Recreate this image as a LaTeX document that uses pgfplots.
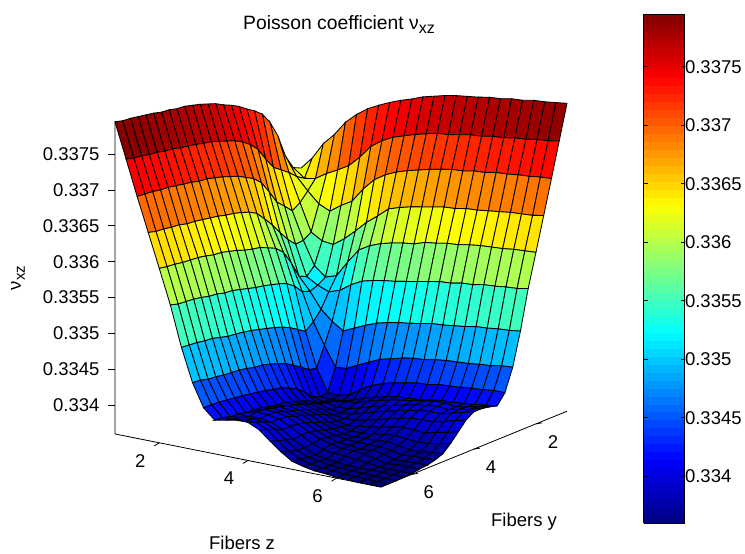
\documentclass[border=0pt]{standalone}
\usepackage{fontspec}
\setmainfont{Liberation Sans}
\usepackage{pgfplots}
\pgfplotsset{compat=1.18}
\pgfplotsset{
  colormap={matjet}{rgb255(0cm)=(0,0,128); rgb255(1cm)=(0,0,255); rgb255(3cm)=(0,255,255); rgb255(5cm)=(255,255,0); rgb255(7cm)=(255,0,0); rgb255(8cm)=(128,0,0)}
}
\begin{document}
\begin{tikzpicture}[x=1pt,y=1pt]
\useasboundingbox (0,0) rectangle (745,554);
\newcommand{\fs}{\fontsize{18.5}{20}\selectfont}
\begin{axis}[
  at={(115pt,67pt)},anchor=south west,
  scale only axis,width=452pt,height=441pt,
  view={35}{16.5},plot box ratio=1 1 1,y dir=reverse,
  xmin=1,xmax=7,ymin=1,ymax=7,zmin=0.3336,zmax=0.33795,
  clip=false,
  colormap name=matjet,
  axis line style={draw=none},
  tick style={draw=none},
  major tick length=0pt,
  xtick pos=left,ytick pos=left,ztick pos=left,
  xtick={2,4,6},xticklabels={2,4,6},
  ytick={2,4,6},yticklabels={2,4,6},
  ztick={0.334,0.3345,0.335,0.3355,0.336,0.3365,0.337,0.3375},
  zticklabels={0.334,0.3345,0.335,0.3355,0.336,0.3365,0.337,0.3375},
  xticklabel style={font=\fs,anchor=center,xshift=-19pt,yshift=-18pt},
  yticklabel style={font=\fs,anchor=center,xshift=17pt,yshift=-18pt},
  zticklabel style={font=\fs,anchor=east,xshift=-12pt},
  colorbar,
  colorbar sampled,
  colorbar style={
    samples=65,
    at={(parent axis.south east)},anchor=south west,xshift=68pt,yshift=-36pt,
    scale only axis,width=41pt,height=509pt,
    ytick={0.334,0.3345,0.335,0.3355,0.336,0.3365,0.337,0.3375},
    yticklabels={0.334,0.3345,0.335,0.3355,0.336,0.3365,0.337,0.3375},
    yticklabel pos=right,
    yticklabel style={font=\fs,xshift=-3pt},
    tick align=inside,major tick length=4pt,
    tick style={draw=black,line width=0.6pt},
    axis line style={draw=black,line width=0.8pt},
  },
]
\addplot3[surf,shader=flat corner,draw=black,line width=0.85pt,mesh/rows=25,mesh/cols=25,mesh/ordering=y varies] table[row sep=newline] {
x y z
1 1 0.33625
1 1.25 0.33630
1 1.5 0.33650
1 1.75 0.33683
1 2 0.33706
1 2.25 0.33722
1 2.5 0.33731
1 2.75 0.33738
1 3 0.33746
1 3.25 0.33752
1 3.5 0.33757
1 3.75 0.33763
1 4 0.33767
1 4.25 0.33771
1 4.5 0.33774
1 4.75 0.33777
1 5 0.33778
1 5.25 0.33781
1 5.5 0.33782
1 5.75 0.33785
1 6 0.33787
1 6.25 0.33789
1 6.5 0.33791
1 6.75 0.33792
1 7 0.33795
1.25 1 0.33642
1.25 1.25 0.33618
1.25 1.5 0.33625
1.25 1.75 0.33635
1.25 2 0.33643
1.25 2.25 0.33651
1.25 2.5 0.33667
1.25 2.75 0.33685
1.25 3 0.33696
1.25 3.25 0.33704
1.25 3.5 0.33710
1.25 3.75 0.33714
1.25 4 0.33718
1.25 4.25 0.33722
1.25 4.5 0.33724
1.25 4.75 0.33727
1.25 5 0.33729
1.25 5.25 0.33731
1.25 5.5 0.33734
1.25 5.75 0.33735
1.25 6 0.33738
1.25 6.25 0.33739
1.25 6.5 0.33742
1.25 6.75 0.33743
1.25 7 0.33746
1.5 1 0.33665
1.5 1.25 0.33621
1.5 1.5 0.33608
1.5 1.75 0.33596
1.5 2 0.33589
1.5 2.25 0.33600
1.5 2.5 0.33610
1.5 2.75 0.33629
1.5 3 0.33646
1.5 3.25 0.33656
1.5 3.5 0.33662
1.5 3.75 0.33668
1.5 4 0.33672
1.5 4.25 0.33676
1.5 4.5 0.33679
1.5 4.75 0.33682
1.5 5 0.33683
1.5 5.25 0.33686
1.5 5.5 0.33688
1.5 5.75 0.33690
1.5 6 0.33692
1.5 6.25 0.33693
1.5 6.5 0.33695
1.5 6.75 0.33696
1.5 7 0.33697
1.75 1 0.33681
1.75 1.25 0.33631
1.75 1.5 0.33593
1.75 1.75 0.33558
1.75 2 0.33551
1.75 2.25 0.33550
1.75 2.5 0.33561
1.75 2.75 0.33575
1.75 3 0.33590
1.75 3.25 0.33603
1.75 3.5 0.33615
1.75 3.75 0.33621
1.75 4 0.33625
1.75 4.25 0.33628
1.75 4.5 0.33630
1.75 4.75 0.33633
1.75 5 0.33635
1.75 5.25 0.33637
1.75 5.5 0.33639
1.75 5.75 0.33640
1.75 6 0.33643
1.75 6.25 0.33644
1.75 6.5 0.33646
1.75 6.75 0.33647
1.75 7 0.33650
2 1 0.33701
2 1.25 0.33639
2 1.5 0.33586
2 1.75 0.33549
2 2 0.33519
2 2.25 0.33508
2 2.5 0.33513
2 2.75 0.33536
2 3 0.33555
2 3.25 0.33565
2 3.5 0.33570
2 3.75 0.33575
2 4 0.33577
2 4.25 0.33580
2 4.5 0.33584
2 4.75 0.33587
2 5 0.33590
2 5.25 0.33591
2 5.5 0.33594
2 5.75 0.33596
2 6 0.33597
2 6.25 0.33598
2 6.5 0.33600
2 6.75 0.33601
2 7 0.33603
2.25 1 0.33715
2.25 1.25 0.33648
2.25 1.5 0.33597
2.25 1.75 0.33547
2.25 2 0.33506
2.25 2.25 0.33499
2.25 2.5 0.33495
2.25 2.75 0.33499
2.25 3 0.33511
2.25 3.25 0.33519
2.25 3.5 0.33523
2.25 3.75 0.33526
2.25 4 0.33529
2.25 4.25 0.33531
2.25 4.5 0.33534
2.25 4.75 0.33537
2.25 5 0.33540
2.25 5.25 0.33541
2.25 5.5 0.33544
2.25 5.75 0.33545
2.25 6 0.33548
2.25 6.25 0.33550
2.25 6.5 0.33551
2.25 6.75 0.33552
2.25 7 0.33555
2.5 1 0.33726
2.5 1.25 0.33663
2.5 1.5 0.33606
2.5 1.75 0.33558
2.5 2 0.33511
2.5 2.25 0.33493
2.5 2.5 0.33473
2.5 2.75 0.33460
2.5 3 0.33451
2.5 3.25 0.33458
2.5 3.5 0.33465
2.5 3.75 0.33470
2.5 4 0.33474
2.5 4.25 0.33477
2.5 4.5 0.33480
2.5 4.75 0.33483
2.5 5 0.33485
2.5 5.25 0.33487
2.5 5.5 0.33488
2.5 5.75 0.33491
2.5 6 0.33494
2.5 6.25 0.33495
2.5 6.5 0.33497
2.5 6.75 0.33498
2.5 7 0.33499
2.75 1 0.33734
2.75 1.25 0.33681
2.75 1.5 0.33626
2.75 1.75 0.33572
2.75 2 0.33533
2.75 2.25 0.33498
2.75 2.5 0.33459
2.75 2.75 0.33430
2.75 3 0.33403
2.75 3.25 0.33405
2.75 3.5 0.33413
2.75 3.75 0.33420
2.75 4 0.33427
2.75 4.25 0.33431
2.75 4.5 0.33435
2.75 4.75 0.33438
2.75 5 0.33439
2.75 5.25 0.33442
2.75 5.5 0.33444
2.75 5.75 0.33445
2.75 6 0.33446
2.75 6.25 0.33448
2.75 6.5 0.33449
2.75 6.75 0.33452
2.75 7 0.33453
3 1 0.33741
3 1.25 0.33692
3 1.5 0.33642
3 1.75 0.33587
3 2 0.33553
3 2.25 0.33509
3 2.5 0.33449
3 2.75 0.33403
3 3 0.33372
3 3.25 0.33371
3 3.5 0.33375
3 3.75 0.33386
3 4 0.33395
3 4.25 0.33400
3 4.5 0.33405
3 4.75 0.33407
3 5 0.33410
3 5.25 0.33412
3 5.5 0.33414
3 5.75 0.33416
3 6 0.33417
3 6.25 0.33419
3 6.5 0.33420
3 6.75 0.33421
3 7 0.33421
3.25 1 0.33747
3.25 1.25 0.33700
3.25 1.5 0.33652
3.25 1.75 0.33599
3.25 2 0.33562
3.25 2.25 0.33517
3.25 2.5 0.33456
3.25 2.75 0.33404
3.25 3 0.33371
3.25 3.25 0.33370
3.25 3.5 0.33371
3.25 3.75 0.33375
3.25 4 0.33381
3.25 4.25 0.33385
3.25 4.5 0.33389
3.25 4.75 0.33392
3.25 5 0.33393
3.25 5.25 0.33395
3.25 5.5 0.33398
3.25 5.75 0.33399
3.25 6 0.33400
3.25 6.25 0.33402
3.25 6.5 0.33403
3.25 6.75 0.33406
3.25 7 0.33407
3.5 1 0.33752
3.5 1.25 0.33705
3.5 1.5 0.33659
3.5 1.75 0.33612
3.5 2 0.33568
3.5 2.25 0.33521
3.5 2.5 0.33463
3.5 2.75 0.33412
3.5 3 0.33375
3.5 3.25 0.33371
3.5 3.5 0.33375
3.5 3.75 0.33377
3.5 4 0.33380
3.5 4.25 0.33384
3.5 4.5 0.33388
3.5 4.75 0.33392
3.5 5 0.33395
3.5 5.25 0.33398
3.5 5.5 0.33400
3.5 5.75 0.33403
3.5 6 0.33404
3.5 6.25 0.33402
3.5 6.5 0.33405
3.5 6.75 0.33407
3.5 7 0.33410
3.75 1 0.33758
3.75 1.25 0.33710
3.75 1.5 0.33664
3.75 1.75 0.33617
3.75 2 0.33572
3.75 2.25 0.33524
3.75 2.5 0.33469
3.75 2.75 0.33419
3.75 3 0.33386
3.75 3.25 0.33375
3.75 3.5 0.33377
3.75 3.75 0.33374
3.75 4 0.33375
3.75 4.25 0.33380
3.75 4.5 0.33384
3.75 4.75 0.33388
3.75 5 0.33392
3.75 5.25 0.33395
3.75 5.5 0.33399
3.75 5.75 0.33402
3.75 6 0.33403
3.75 6.25 0.33402
3.75 6.5 0.33406
3.75 6.75 0.33409
3.75 7 0.33413
4 1 0.33762
4 1.25 0.33714
4 1.5 0.33668
4 1.75 0.33621
4 2 0.33575
4 2.25 0.33526
4 2.5 0.33473
4 2.75 0.33426
4 3 0.33394
4 3.25 0.33381
4 3.5 0.33379
4 3.75 0.33375
4 4 0.33374
4 4.25 0.33375
4 4.5 0.33380
4 4.75 0.33384
4 5 0.33388
4 5.25 0.33392
4 5.5 0.33395
4 5.75 0.33399
4 6 0.33400
4 6.25 0.33400
4 6.5 0.33405
4 6.75 0.33409
4 7 0.33413
4.25 1 0.33766
4.25 1.25 0.33718
4.25 1.5 0.33672
4.25 1.75 0.33624
4.25 2 0.33577
4.25 2.25 0.33529
4.25 2.5 0.33476
4.25 2.75 0.33430
4.25 3 0.33400
4.25 3.25 0.33385
4.25 3.5 0.33384
4.25 3.75 0.33379
4.25 4 0.33375
4.25 4.25 0.33373
4.25 4.5 0.33374
4.25 4.75 0.33377
4.25 5 0.33381
4.25 5.25 0.33385
4.25 5.5 0.33389
4.25 5.75 0.33392
4.25 6 0.33393
4.25 6.25 0.33393
4.25 6.5 0.33398
4.25 6.75 0.33402
4.25 7 0.33406
4.5 1 0.33769
4.5 1.25 0.33719
4.5 1.5 0.33675
4.5 1.75 0.33627
4.5 2 0.33582
4.5 2.25 0.33532
4.5 2.5 0.33478
4.5 2.75 0.33434
4.5 3 0.33404
4.5 3.25 0.33389
4.5 3.5 0.33388
4.5 3.75 0.33384
4.5 4 0.33379
4.5 4.25 0.33374
4.5 4.5 0.33371
4.5 4.75 0.33373
4.5 5 0.33375
4.5 5.25 0.33378
4.5 5.5 0.33381
4.5 5.75 0.33384
4.5 6 0.33384
4.5 6.25 0.33382
4.5 6.5 0.33386
4.5 6.75 0.33389
4.5 7 0.33393
4.75 1 0.33771
4.75 1.25 0.33722
4.75 1.5 0.33678
4.75 1.75 0.33630
4.75 2 0.33584
4.75 2.25 0.33535
4.75 2.5 0.33481
4.75 2.75 0.33437
4.75 3 0.33407
4.75 3.25 0.33392
4.75 3.5 0.33392
4.75 3.75 0.33388
4.75 4 0.33384
4.75 4.25 0.33377
4.75 4.5 0.33373
4.75 4.75 0.33371
4.75 5 0.33371
4.75 5.25 0.33373
4.75 5.5 0.33375
4.75 5.75 0.33377
4.75 6 0.33375
4.75 6.25 0.33374
4.75 6.5 0.33375
4.75 6.75 0.33378
4.75 7 0.33381
5 1 0.33773
5 1.25 0.33725
5 1.5 0.33679
5 1.75 0.33631
5 2 0.33587
5 2.25 0.33538
5 2.5 0.33484
5 2.75 0.33438
5 3 0.33410
5 3.25 0.33393
5 3.5 0.33395
5 3.75 0.33392
5 4 0.33388
5 4.25 0.33381
5 4.5 0.33375
5 4.75 0.33371
5 5 0.33370
5 5.25 0.33371
5 5.5 0.33371
5 5.75 0.33373
5 6 0.33370
5 6.25 0.33367
5 6.5 0.33368
5 6.75 0.33370
5 7 0.33371
5.25 1 0.33776
5.25 1.25 0.33726
5.25 1.5 0.33682
5.25 1.75 0.33634
5.25 2 0.33588
5.25 2.25 0.33539
5.25 2.5 0.33485
5.25 2.75 0.33441
5.25 3 0.33411
5.25 3.25 0.33394
5.25 3.5 0.33397
5.25 3.75 0.33395
5.25 4 0.33392
5.25 4.25 0.33385
5.25 4.5 0.33378
5.25 4.75 0.33373
5.25 5 0.33371
5.25 5.25 0.33370
5.25 5.5 0.33370
5.25 5.75 0.33370
5.25 6 0.33368
5.25 6.25 0.33364
5.25 6.5 0.33366
5.25 6.75 0.33366
5.25 7 0.33367
5.5 1 0.33777
5.5 1.25 0.33729
5.5 1.5 0.33683
5.5 1.75 0.33635
5.5 2 0.33591
5.5 2.25 0.33542
5.5 2.5 0.33487
5.5 2.75 0.33443
5.5 3 0.33414
5.5 3.25 0.33397
5.5 3.5 0.33400
5.5 3.75 0.33399
5.5 4 0.33395
5.5 4.25 0.33389
5.5 4.5 0.33381
5.5 4.75 0.33375
5.5 5 0.33371
5.5 5.25 0.33370
5.5 5.5 0.33368
5.5 5.75 0.33370
5.5 6 0.33367
5.5 6.25 0.33363
5.5 6.5 0.33363
5.5 6.75 0.33364
5.5 7 0.33364
5.75 1 0.33780
5.75 1.25 0.33730
5.75 1.5 0.33686
5.75 1.75 0.33637
5.75 2 0.33593
5.75 2.25 0.33543
5.75 2.5 0.33489
5.75 2.75 0.33444
5.75 3 0.33415
5.75 3.25 0.33399
5.75 3.5 0.33403
5.75 3.75 0.33401
5.75 4 0.33399
5.75 4.25 0.33392
5.75 4.5 0.33384
5.75 4.75 0.33377
5.75 5 0.33373
5.75 5.25 0.33370
5.75 5.5 0.33370
5.75 5.75 0.33368
5.75 6 0.33365
5.75 6.25 0.33361
5.75 6.5 0.33363
5.75 6.75 0.33363
5.75 7 0.33363
6 1 0.33781
6 1.25 0.33733
6 1.5 0.33687
6 1.75 0.33639
6 2 0.33594
6 2.25 0.33546
6 2.5 0.33492
6 2.75 0.33445
6 3 0.33416
6 3.25 0.33400
6 3.5 0.33403
6 3.75 0.33403
6 4 0.33400
6 4.25 0.33393
6 4.5 0.33383
6 4.75 0.33375
6 5 0.33370
6 5.25 0.33368
6 5.5 0.33367
6 5.75 0.33365
6 6 0.33364
6 6.25 0.33361
6 6.5 0.33361
6 6.75 0.33361
6 7 0.33361
6.25 1 0.33784
6.25 1.25 0.33734
6.25 1.5 0.33689
6.25 1.75 0.33641
6.25 2 0.33595
6.25 2.25 0.33547
6.25 2.5 0.33493
6.25 2.75 0.33447
6.25 3 0.33418
6.25 3.25 0.33401
6.25 3.5 0.33401
6.25 3.75 0.33401
6.25 4 0.33400
6.25 4.25 0.33393
6.25 4.5 0.33382
6.25 4.75 0.33374
6.25 5 0.33367
6.25 5.25 0.33364
6.25 5.5 0.33363
6.25 5.75 0.33361
6.25 6 0.33361
6.25 6.25 0.33361
6.25 6.5 0.33361
6.25 6.75 0.33361
6.25 7 0.33361
6.5 1 0.33785
6.5 1.25 0.33737
6.5 1.5 0.33690
6.5 1.75 0.33642
6.5 2 0.33597
6.5 2.25 0.33549
6.5 2.5 0.33495
6.5 2.75 0.33448
6.5 3 0.33419
6.5 3.25 0.33403
6.5 3.5 0.33404
6.5 3.75 0.33405
6.5 4 0.33404
6.5 4.25 0.33397
6.5 4.5 0.33386
6.5 4.75 0.33375
6.5 5 0.33368
6.5 5.25 0.33366
6.5 5.5 0.33363
6.5 5.75 0.33363
6.5 6 0.33361
6.5 6.25 0.33361
6.5 6.5 0.33360
6.5 6.75 0.33360
6.5 7 0.33360
6.75 1 0.33787
6.75 1.25 0.33738
6.75 1.5 0.33692
6.75 1.75 0.33643
6.75 2 0.33598
6.75 2.25 0.33550
6.75 2.5 0.33496
6.75 2.75 0.33451
6.75 3 0.33421
6.75 3.25 0.33405
6.75 3.5 0.33407
6.75 3.75 0.33408
6.75 4 0.33408
6.75 4.25 0.33401
6.75 4.5 0.33389
6.75 4.75 0.33378
6.75 5 0.33370
6.75 5.25 0.33366
6.75 5.5 0.33364
6.75 5.75 0.33363
6.75 6 0.33361
6.75 6.25 0.33361
6.75 6.5 0.33360
6.75 6.75 0.33360
6.75 7 0.33360
7 1 0.33789
7 1.25 0.33741
7 1.5 0.33693
7 1.75 0.33646
7 2 0.33599
7 2.25 0.33553
7 2.5 0.33498
7 2.75 0.33452
7 3 0.33421
7 3.25 0.33407
7 3.5 0.33410
7 3.75 0.33412
7 4 0.33412
7 4.25 0.33405
7 4.5 0.33393
7 4.75 0.33381
7 5 0.33371
7 5.25 0.33367
7 5.5 0.33364
7 5.75 0.33363
7 6 0.33361
7 6.25 0.33361
7 6.5 0.33360
7 6.75 0.33360
7 7 0.33360
};
\draw[black,line width=0.8pt] (axis cs:1,7,0.33795) -- (axis cs:1,7,0.3336) -- (axis cs:7,7,0.3336) -- (axis cs:7,1,0.3336);
\pgfplotsinvokeforeach{2,4,6}{\draw[black,line width=0.8pt] (axis cs:#1,7,0.3336) -- ++(-5pt,-3pt);}
\pgfplotsinvokeforeach{2,4,6}{\draw[black,line width=0.8pt] (axis cs:7,#1,0.3336) -- ++(6pt,1pt);}
\pgfplotsinvokeforeach{0.334,0.3345,0.335,0.3355,0.336,0.3365,0.337,0.3375}{\draw[black,line width=0.8pt] (axis cs:1,7,#1) -- ++(-7pt,0pt);}
\end{axis}
\node[font=\fontsize{19.3}{20}\selectfont] at (339,529) {Poisson coefficient ν\raisebox{-4pt}{\fontsize{16}{16}\selectfont xz}};
\node[font=\fs,rotate=90] at (18,276) {ν\raisebox{-4pt}{\fontsize{15}{15}\selectfont xz}};
\node[font=\fs] at (242,11) {Fibers z};
\node[font=\fs] at (524,32) {Fibers y};
\end{tikzpicture}
\end{document}
